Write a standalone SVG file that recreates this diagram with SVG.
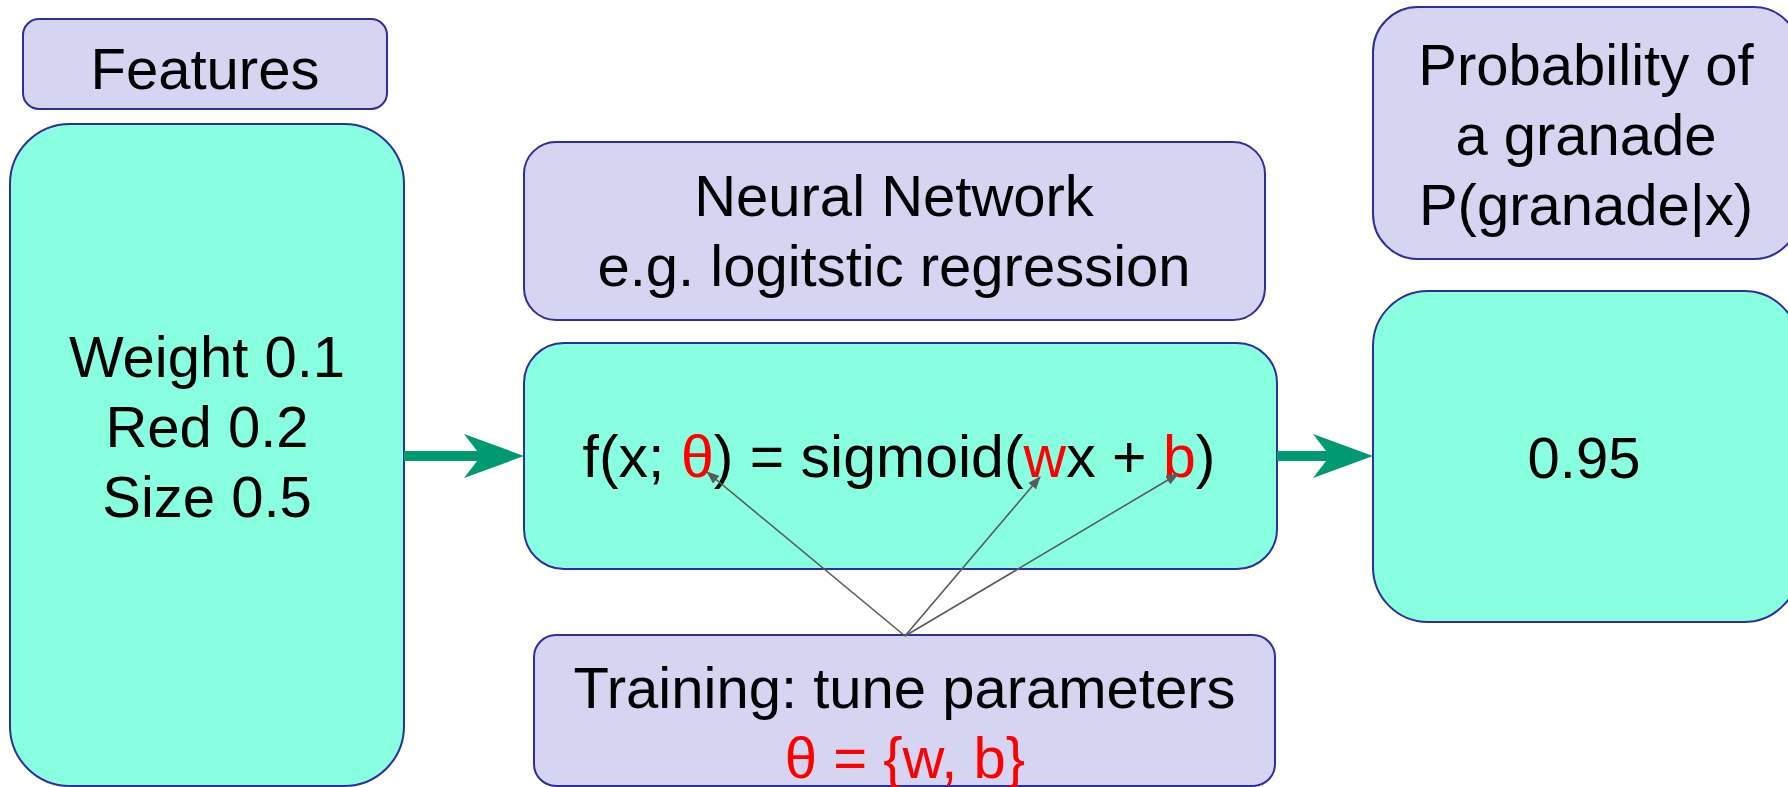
<svg xmlns="http://www.w3.org/2000/svg" width="1788" height="787" viewBox="0 0 1788 787">
  <style>
    .label { fill: #d5d5f2; stroke: #2e2e9c; stroke-width: 2; }
    .value { fill: #88ffdf; stroke: #2e2e9c; stroke-width: 2; }
    text { font-family: "Liberation Sans", Arial, sans-serif; font-size: 58px; fill: #000; text-anchor: middle; }
    .red { fill: #ff0000; }
    .flow { stroke: #009a72; stroke-width: 10; fill: none; }
    .param { stroke: #5a5a5a; stroke-width: 1.6; fill: none; }
  </style>
  <defs>
    <marker id="bigHead" viewBox="0 0 60 44" markerUnits="userSpaceOnUse" markerWidth="60" markerHeight="44" refX="26" refY="22" orient="auto">
      <path d="M0,0 L60,22 L0,44 L17,22 Z" fill="#009a72"/>
    </marker>
    <marker id="smallHead" viewBox="0 0 13 10" markerUnits="userSpaceOnUse" markerWidth="13" markerHeight="10" refX="12" refY="5" orient="auto">
      <path d="M0,0 L13,5 L0,10 Z" fill="#5a5a5a"/>
    </marker>
  </defs>

  <g id="features-title">
    <rect class="label" x="23" y="19" width="364" height="90" rx="16"/>
    <text x="205" y="89">Features</text>
  </g>

  <g id="features">
    <rect class="value" x="10" y="124" width="394" height="662" rx="60"/>
    <text x="207" y="377">Weight 0.1</text>
    <text x="207" y="447">Red 0.2</text>
    <text x="207" y="517">Size 0.5</text>
  </g>

  <g id="network-title">
    <rect class="label" x="524" y="142" width="741" height="178" rx="32"/>
    <text x="894" y="216">Neural Network</text>
    <text x="894" y="286">e.g. logitstic regression</text>
  </g>

  <g id="network">
    <rect class="value" x="524" y="343" width="753" height="226" rx="40"/>
    <text x="899" y="477" style="font-size:59px">f(x; <tspan class="red">θ</tspan>) = sigmoid(<tspan class="red">w</tspan>x + <tspan class="red">b</tspan>)</text>
  </g>

  <g id="training">
    <rect class="label" x="534" y="635" width="741" height="151" rx="22"/>
    <text x="904.5" y="708">Training: tune parameters</text>
    <text x="905" y="778" class="red">θ = {w, b}</text>
  </g>

  <g id="output-title">
    <rect class="label" x="1373" y="7" width="426" height="252" rx="45"/>
    <text x="1586" y="85">Probability of</text>
    <text x="1586" y="155">a granade</text>
    <text x="1586" y="225">P(granade|x)</text>
  </g>

  <g id="output">
    <rect class="value" x="1373" y="291" width="426" height="331" rx="55"/>
    <text x="1584" y="478">0.95</text>
  </g>

  <g id="connectors">
    <line class="flow" x1="404" y1="456" x2="490" y2="456" marker-end="url(#bigHead)"/>
    <line class="flow" x1="1277" y1="456" x2="1339" y2="456" marker-end="url(#bigHead)"/>
    <line class="param" x1="905" y1="636" x2="707" y2="472" marker-end="url(#smallHead)"/>
    <line class="param" x1="905" y1="636" x2="1040" y2="477" marker-end="url(#smallHead)"/>
    <line class="param" x1="905" y1="636" x2="1178" y2="474" marker-end="url(#smallHead)"/>
  </g>
</svg>
